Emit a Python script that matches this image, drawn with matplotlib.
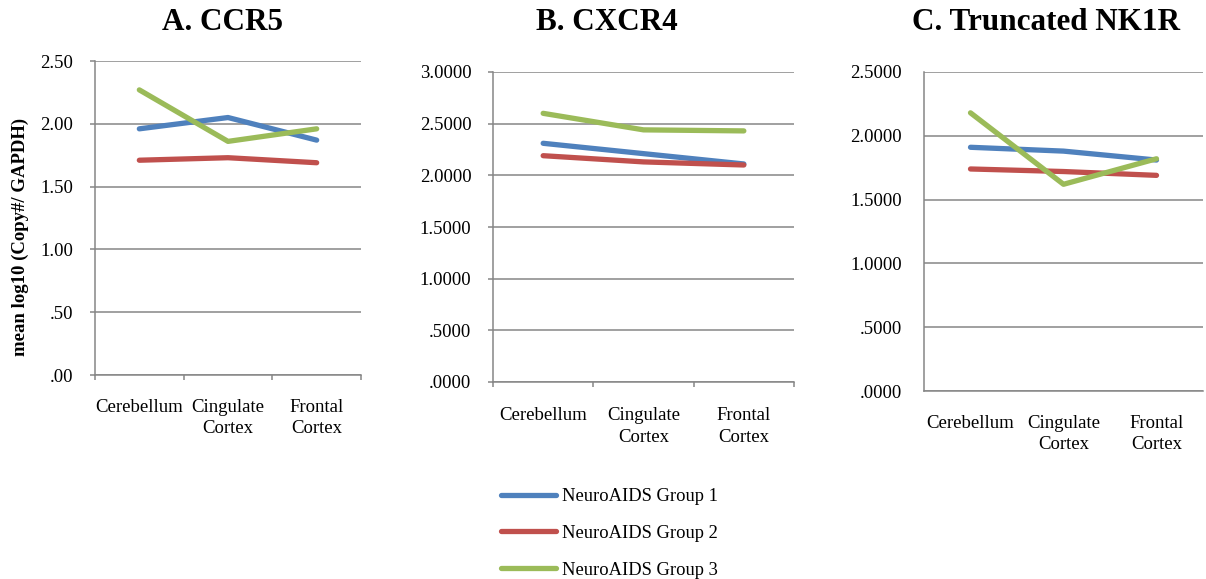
import numpy as np
import matplotlib
matplotlib.use("Agg")
import matplotlib.pyplot as plt

plt.rcParams['font.family'] = ['Liberation Serif', 'DejaVu Serif']

# data
regions = ["Cerebellum", "Cingulate\nCortex", "Frontal\nCortex"]
groups = ["NeuroAIDS Group 1", "NeuroAIDS Group 2", "NeuroAIDS Group 3"]
colors = ["#4F81BD", "#C0504D", "#9BBB59"]

ccr5 = [[1.96, 2.05, 1.87],
        [1.71, 1.73, 1.69],
        [2.27, 1.86, 1.96]]
cxcr4 = [[2.31, 2.21, 2.11],
         [2.19, 2.13, 2.10],
         [2.60, 2.44, 2.43]]
nk1r = [[1.91, 1.88, 1.81],
        [1.74, 1.72, 1.69],
        [2.18, 1.62, 1.82]]

titles = ["A. CCR5", "B. CXCR4", "C. Truncated NK1R"]
ymax = [2.5, 3.0, 2.5]
fmts = ["{:.2f}", "{:.4f}", "{:.4f}"]

W, H = 1206, 579
fig = plt.figure(figsize=(W / 100, H / 100), dpi=100)

# axes boxes in pixels: left, top, right, bottom
boxes = [(95, 61, 361, 375), (493, 72, 794, 382), (924, 72, 1203, 391)]
title_x = [222, 607, 1046]
label_pad = [17, 18, 17]
has_ticks = [True, True, False]

grey = "#868686"
fs = 13.5
all_data = [ccr5, cxcr4, nk1r]
axes = []
for i in range(3):
    l, t, r, b = boxes[i]
    ax = fig.add_axes([l / W, 1 - b / H, (r - l) / W, (b - t) / H])
    axes.append(ax)
    x = np.arange(len(regions)) + 0.5
    for g in range(3):
        ax.plot(x, all_data[i][g], color=colors[g], lw=3.8,
                solid_capstyle='round', solid_joinstyle='round',
                label=groups[g], zorder=3)
    ax.set_xlim(0, 3)
    ax.set_ylim(0, ymax[i])
    yt = np.arange(0, ymax[i] + 0.01, 0.5)
    ax.set_yticks(yt)
    labs = []
    for v in yt:
        s = fmts[i].format(v)
        if s.startswith("0"):
            s = s[1:]
        labs.append(s)
    ax.set_yticklabels(labs, fontsize=fs)
    ax.set_xticks([0, 1, 2, 3])
    ax.set_xticklabels([])
    ax.set_xticks(x, minor=True)
    ax.set_xticklabels(regions, minor=True, fontsize=fs, linespacing=1.35)
    ax.tick_params(axis='x', which='minor', length=0, pad=label_pad[i])
    if has_ticks[i]:
        ax.tick_params(axis='both', which='major', length=3.6, width=1.1,
                       color=grey, direction='out')
        ax.tick_params(axis='y', pad=12)
    else:
        ax.tick_params(axis='both', which='major', length=0, pad=15.8)
    ax.grid(axis='y', color=grey, lw=1.1)
    ax.set_axisbelow(True)
    for s in ["top", "right"]:
        ax.spines[s].set_visible(False)
    for s in ["left", "bottom"]:
        ax.spines[s].set_color(grey)
        ax.spines[s].set_linewidth(1.1)
    fig.text(title_x[i] / W, 1 - 23 / H, titles[i], fontsize=22.4,
             fontweight='bold', ha='center', va='center')

fig.text(20 / W, 1 - 237 / H, "mean log10 (Copy#/ GAPDH)", rotation=90,
         fontsize=13.5, fontweight='bold', ha='center', va='center')

handles, labels = axes[0].get_legend_handles_labels()
fig.legend(handles, labels, loc='upper left',
           bbox_to_anchor=(501 / W, 1 - 488 / H), frameon=False,
           fontsize=13.3, handlelength=3.0, handletextpad=0.28,
           labelspacing=1.07, borderpad=0, borderaxespad=0)

fig.savefig("out.png", dpi=100)
